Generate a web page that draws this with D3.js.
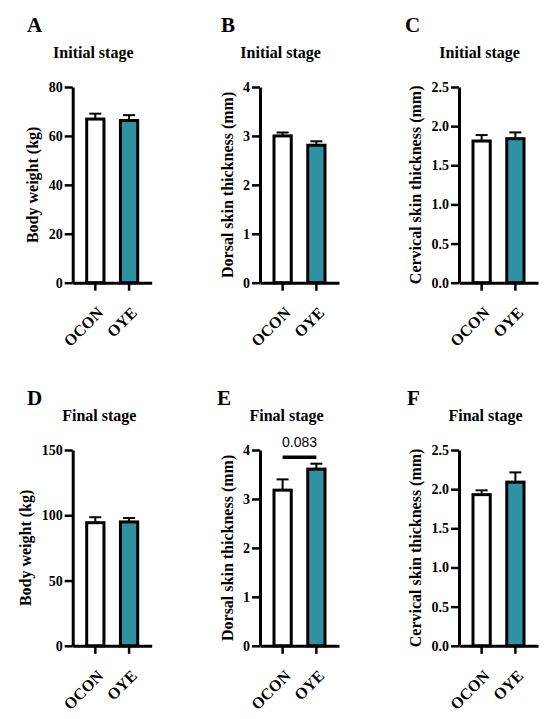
<!DOCTYPE html>
<html>
<head>
<meta charset="utf-8">
<script src="https://cdn.jsdelivr.net/npm/d3@7"></script>
<style>
  body { margin: 0; background: #fff; }
  text { font-family: "Liberation Serif", "Times New Roman", serif; font-weight: bold; fill: #000; }
  .pval { font-family: "Liberation Sans", Arial, sans-serif; font-weight: normal; }
</style>
</head>
<body>
<script>
// groups and their fills
var groups = ["OCON", "OYE"];
var groupFills = ["#ffffff", "#2f91a1"];

// one entry per panel, A..F
var panelLetters = ["A", "B", "C", "D", "E", "F"];
var panelTitles = ["Initial stage", "Initial stage", "Initial stage", "Final stage", "Final stage", "Final stage"];
var yLabels = ["Body weight (kg)", "Dorsal skin thickness (mm)", "Cervical skin thickness (mm)",
               "Body weight (kg)", "Dorsal skin thickness (mm)", "Cervical skin thickness (mm)"];
var yMax = [80, 4, 2.5, 150, 4, 2.5];
var yTicks = [
  [0, 20, 40, 60, 80],
  [0, 1, 2, 3, 4],
  [0, 0.5, 1.0, 1.5, 2.0, 2.5],
  [0, 50, 100, 150],
  [0, 1, 2, 3, 4],
  [0, 0.5, 1.0, 1.5, 2.0, 2.5]
];
var tickFormats = ["d", "d", ".1f", "d", "d", ".1f"];

// mean and SEM for OCON, OYE
var meanValues = [[66.9, 66.3], [3.00, 2.81], [1.81, 1.84], [94.3, 94.9], [3.18, 3.61], [1.93, 2.09]];
var semValues  = [[2.2, 2.2], [0.07, 0.08], [0.076, 0.08], [4.2, 3.0], [0.22, 0.11], [0.055, 0.124]];

// p value bracket in panel E
var pPanel = 4;
var pLabel = "0.083";
var pLineValue = 3.85;

// layout
var W = 550, H = 719;
var colAxisX = [72.7, 260, 459];
var rowBase = [282.7, 645.8];
var rowTop = [87, 450];
var axisLen = 79;
var titleOffset = [20.6, 26.6];
var titleBaseline = [58.3, 421.3];
var letterX = [27, 221, 405, 27, 217, 407];
var letterY = [32.3, 32.3, 32.3, 405, 405, 405];

var svg = d3.select("body").append("svg")
  .attr("width", W)
  .attr("height", H);

svg.append("rect").attr("width", W).attr("height", H).attr("fill", "#fff");

function draw_panel(i) {
  var col = i % 3, row = Math.floor(i / 3);
  var left = colAxisX[col], base = rowBase[row], top = rowTop[row];

  var x = d3.scaleBand().domain(groups)
    .range([left, left + axisLen])
    .paddingInner(0.4).paddingOuter(0.37);
  var y = d3.scaleLinear().domain([0, yMax[i]]).range([base, top]);

  var g = svg.append("g");

  // error bars (upper only) then bars on top
  groups.forEach((name, j) => {
    var cx = x(name) + x.bandwidth() / 2;
    var m = meanValues[i][j], e = semValues[i][j];
    g.append("line")
      .attr("x1", cx).attr("x2", cx)
      .attr("y1", y(m)).attr("y2", y(m + e))
      .attr("stroke", "#000").attr("stroke-width", 2);
    g.append("line")
      .attr("x1", cx - 6).attr("x2", cx + 6)
      .attr("y1", y(m + e)).attr("y2", y(m + e))
      .attr("stroke", "#000").attr("stroke-width", 2);
    g.append("rect")
      .attr("x", x(name) + 1.5)
      .attr("y", y(m))
      .attr("width", x.bandwidth() - 3)
      .attr("height", base - y(m))
      .attr("fill", groupFills[j])
      .attr("stroke", "#000")
      .attr("stroke-width", 3);
  });

  var yAxis = d3.axisLeft(y)
    .tickValues(yTicks[i])
    .tickFormat(d3.format(tickFormats[i]))
    .tickSize(8)
    .tickSizeOuter(0)
    .tickPadding(2);

  var ya = g.append("g")
    .attr("transform", "translate(" + left + ",0)")
    .call(yAxis)
    .attr("font-size", 14);
  ya.select(".domain").attr("stroke-width", 3);
  ya.selectAll(".tick line").attr("stroke-width", 2.5);

  var xAxis = d3.axisBottom(x).tickSize(8).tickSizeOuter(0);
  var xa = g.append("g")
    .attr("transform", "translate(0," + base + ")")
    .call(xAxis)
    .attr("font-size", 16);
  xa.select(".domain").attr("stroke-width", 3);
  xa.selectAll(".tick line").attr("stroke-width", 2.5);
  xa.selectAll(".tick text")
    .attr("x", 0).attr("y", 0).attr("dy", "0.35em")
    .attr("transform", "translate(5,27) rotate(-45)")
    .style("text-anchor", "end");

  // y label, placed left of the tick labels
  var bb = ya.node().getBBox();
  g.append("text")
    .attr("transform", "translate(" + (left + bb.x - 10.5) + "," + ((base + top) / 2) + ") rotate(-90)")
    .attr("text-anchor", "middle")
    .attr("font-size", 16)
    .text(yLabels[i]);

  g.append("text")
    .attr("x", left + titleOffset[row])
    .attr("y", titleBaseline[row])
    .attr("text-anchor", "middle")
    .attr("font-size", 16)
    .text(panelTitles[i]);

  g.append("text")
    .attr("x", letterX[i])
    .attr("y", letterY[i])
    .attr("font-size", 21)
    .text(panelLetters[i]);

  if (i == pPanel) {
    var x1 = x(groups[0]) + x.bandwidth() / 2, x2 = x(groups[1]) + x.bandwidth() / 2;
    g.append("line")
      .attr("x1", x1).attr("x2", x2)
      .attr("y1", y(pLineValue)).attr("y2", y(pLineValue))
      .attr("stroke", "#000").attr("stroke-width", 3.5);
    g.append("text")
      .attr("class", "pval")
      .attr("x", (x1 + x2) / 2)
      .attr("y", y(pLineValue) - 10)
      .attr("text-anchor", "middle")
      .attr("font-size", 14)
      .text(pLabel);
  }
}

for (var i = 0; i < panelLetters.length; i++) draw_panel(i);
</script>
</body>
</html>
